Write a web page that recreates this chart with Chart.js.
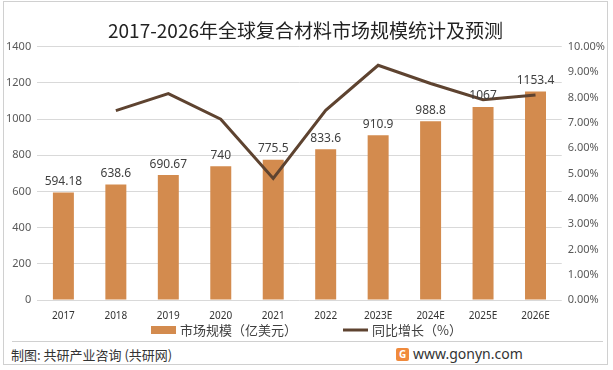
<!DOCTYPE html>
<html lang="zh">
<head>
  <meta charset="UTF-8" />
  <title>2017-2026年全球复合材料市场规模统计及预测</title>
  <script src="https://cdn.jsdelivr.net/npm/chart.js@4/dist/chart.umd.min.js"></script>
  <style>
    html, body { margin: 0; padding: 0; background: #fff; }
    body { width: 613px; height: 370px; position: relative; overflow: hidden; font-family: "Noto Sans CJK SC", sans-serif; }
    #frame { position: absolute; left: 3px; top: 1px; width: 605px; height: 364px; border: 1px solid #d0d0d0; box-sizing: border-box; }
    #box { position: absolute; left: 0; top: 0; width: 613px; height: 341px; }
    #sep { position: absolute; left: 12px; right: 10px; top: 341px; border-top: 1px solid #d0d0d0; }
    #src { position: absolute; left: 11px; top: 345px; font-size: 13px; color: #333; }
    #site { position: absolute; left: 413px; top: 344px; font-size: 14px; color: #333; font-family: "Noto Sans", sans-serif; }
    #logo { position: absolute; left: 396px; top: 348px; width: 13px; height: 13px; background: #f08a3c; border-radius: 2px; color: #fff; font: bold 10px "Noto Sans", sans-serif; text-align: center; line-height: 13px; }
  </style>
</head>
<body>
  <div id="frame"></div>
  <div id="box"><canvas id="chart"></canvas></div>
  <div id="sep"></div>
  <div id="src">制图: 共研产业咨询 (共研网)</div>
  <div id="logo">G</div>
  <div id="site">www.gonyn.com</div>

  <script>
    const years = ['2017', '2018', '2019', '2020', '2021', '2022', '2023E', '2024E', '2025E', '2026E']
    const marketSize = [594.18, 638.6, 690.67, 740, 775.5, 833.6, 910.9, 988.8, 1067, 1153.4]
    const growthRate = [null, 7.48, 8.15, 7.14, 4.80, 7.49, 9.27, 8.55, 7.91, 8.10]
    const seriesNames = ['市场规模（亿美元）', '同比增长（%）']

    const barColor = '#d38b4e'
    const lineColor = '#5e4330'

    // value labels above the bars
    const barLabels = {
      id: 'barLabels',
      afterDatasetsDraw(chart) {
        const meta = chart.getDatasetMeta(0)
        const ctx = chart.ctx
        ctx.save()
        ctx.font = '12px "Noto Sans", sans-serif'
        ctx.fillStyle = '#404040'
        ctx.textAlign = 'center'
        ctx.textBaseline = 'bottom'
        meta.data.forEach((bar, i) => {
          ctx.fillText(String(marketSize[i]), bar.x, bar.y - 5)
        })
        ctx.restore()
      }
    }

    // legend drawn by hand so the gap between the two items matches
    const bottomLegend = {
      id: 'bottomLegend',
      afterDraw(chart) {
        const ctx = chart.ctx
        const y = 330, box = 25, gap = 4, itemGap = 46
        ctx.save()
        ctx.font = '13px "Noto Sans CJK SC", sans-serif'
        const w0 = ctx.measureText(seriesNames[0]).width
        const w1 = ctx.measureText(seriesNames[1]).width
        const total = box + gap + w0 + itemGap + box + gap + w1
        let x = (chart.width - total) / 2
        ctx.fillStyle = barColor
        ctx.fillRect(x, y - 4, box, 8)
        ctx.fillStyle = '#404040'
        ctx.textBaseline = 'middle'
        ctx.fillText(seriesNames[0], x + box + gap, y)
        x += box + gap + w0 + itemGap
        ctx.strokeStyle = lineColor
        ctx.lineWidth = 3
        ctx.beginPath()
        ctx.moveTo(x, y)
        ctx.lineTo(x + box, y)
        ctx.stroke()
        ctx.fillText(seriesNames[1], x + box + gap, y)
        ctx.restore()
      }
    }

    new Chart(document.getElementById('chart'), {
      data: {
        labels: years,
        datasets: [
          {
            type: 'bar',
            label: seriesNames[0],
            data: marketSize,
            backgroundColor: barColor,
            yAxisID: 'y',
            barPercentage: 0.8,
            categoryPercentage: 0.5,
            order: 1
          },
          {
            type: 'line',
            label: seriesNames[1],
            data: growthRate,
            borderColor: lineColor,
            borderWidth: 3,
            pointRadius: 0,
            tension: 0,
            yAxisID: 'y1',
            order: 0
          }
        ]
      },
      options: {
        responsive: true,
        maintainAspectRatio: false,
        animation: false,
        layout: { padding: { left: 0, right: 2, top: 0, bottom: 17 } },
        plugins: {
          title: {
            display: true,
            text: '2017-2026年全球复合材料市场规模统计及预测',
            color: '#222',
            font: { size: 19, family: '"Noto Sans CJK SC", sans-serif', weight: 'normal' },
            padding: { top: 19, bottom: 5 }
          },
          legend: { display: false },
          tooltip: { enabled: false }
        },
        scales: {
          x: {
            grid: { display: false },
            border: { display: false },
            ticks: { color: '#333', font: { size: 10, family: '"Noto Sans", sans-serif' }, maxRotation: 0, padding: 2 }
          },
          y: {
            position: 'left',
            min: 0,
            max: 1400,
            ticks: { stepSize: 200, color: '#595959', font: { size: 11, family: '"Noto Sans", sans-serif' }, padding: 6, callback: v => String(v) },
            grid: { color: '#d9d9d9', drawTicks: false },
            border: { display: false }
          },
          y1: {
            position: 'right',
            min: 0,
            max: 10,
            ticks: { stepSize: 1, color: '#595959', font: { size: 11, family: '"Noto Sans", sans-serif' }, padding: 6, callback: v => v.toFixed(2) + '%' },
            grid: { display: false, drawTicks: false },
            border: { display: false }
          }
        }
      },
      plugins: [barLabels, bottomLegend]
    })
  </script>
</body>
</html>
